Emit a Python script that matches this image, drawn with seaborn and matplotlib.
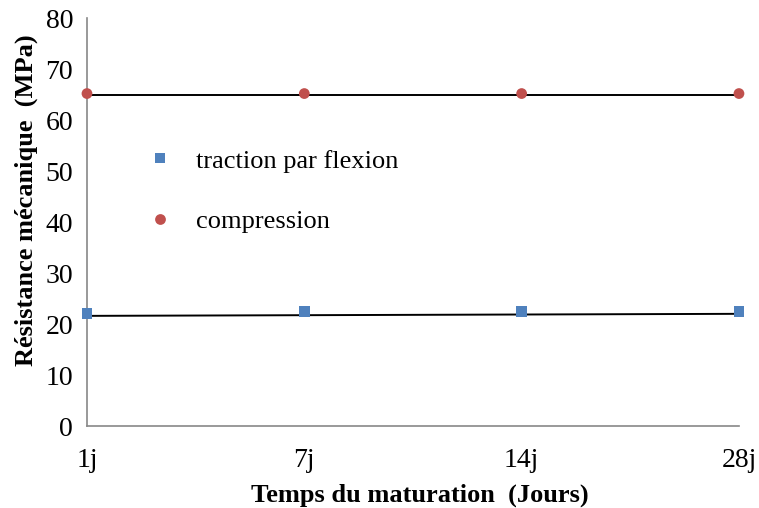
import pandas as pd
import numpy as np
import matplotlib
matplotlib.use('Agg')
import matplotlib.pyplot as plt
import seaborn as sns

# ==================== DATA ====================
jours = ['1j', '7j', '14j', '28j']
traction = [22.0, 22.4, 22.4, 22.4]
compression = [65.2, 65.2, 65.2, 65.2]
# trend lines (start / end values)
trend_traction = [21.6, 22.0]
trend_compression = [64.9, 64.9]

df = pd.DataFrame({
    'x': list(range(len(jours))) * 2,
    'val': traction + compression,
    'serie': ['traction par flexion'] * len(jours) + ['compression'] * len(jours),
})

sns.set_style('white')
plt.rcParams['font.family'] = ['Liberation Serif', 'DejaVu Serif']
plt.rcParams['text.color'] = 'black'
plt.rcParams['axes.labelcolor'] = 'black'

fig = plt.figure(figsize=(7.59, 5.08), dpi=100)
ax = fig.add_axes([0.1146, 0.1614, 0.859, 0.803])

sns.scatterplot(data=df, x='x', y='val', hue='serie', style='serie',
                markers={'traction par flexion': 's', 'compression': 'o'},
                palette={'traction par flexion': '#4F81BD', 'compression': '#C0504D'},
                s=60, linewidth=0, ax=ax, zorder=3, clip_on=False)

xe = [0, len(jours) - 1]
ax.plot(xe, trend_traction, color='black', lw=1.4, zorder=2)
ax.plot(xe, trend_compression, color='black', lw=1.4, zorder=2)

ax.set_xlim(0, len(jours) - 1)
ax.set_ylim(0, 80)
ax.set_yticks(range(0, 81, 10))
ax.set_xticks(range(len(jours)))
ax.set_xticklabels(jours)

for s in ['top', 'right']:
    ax.spines[s].set_visible(False)
for s in ['left', 'bottom']:
    ax.spines[s].set_color('#888888')
    ax.spines[s].set_linewidth(1.2)
ax.tick_params(axis='both', which='major', direction='out', length=5, width=1.2,
               color='#888888', labelsize=20, labelcolor='black', pad=5)
ax.tick_params(axis='x', pad=11)

ax.set_xlabel('Temps du maturation  (Jours)', fontsize=19, fontweight='bold')
ax.set_ylabel('Résistance mécanique  (MPa)', fontsize=19, fontweight='bold')
ax.xaxis.set_label_coords(0.51, -0.142)
ax.yaxis.set_label_coords(-0.075, 0.554)

leg = ax.legend(loc='upper left', bbox_to_anchor=(0.035, 0.737), frameon=False,
                fontsize=19, labelspacing=1.4, handletextpad=0.35, markerscale=1.0)

plt.savefig('out.png', dpi=100)
